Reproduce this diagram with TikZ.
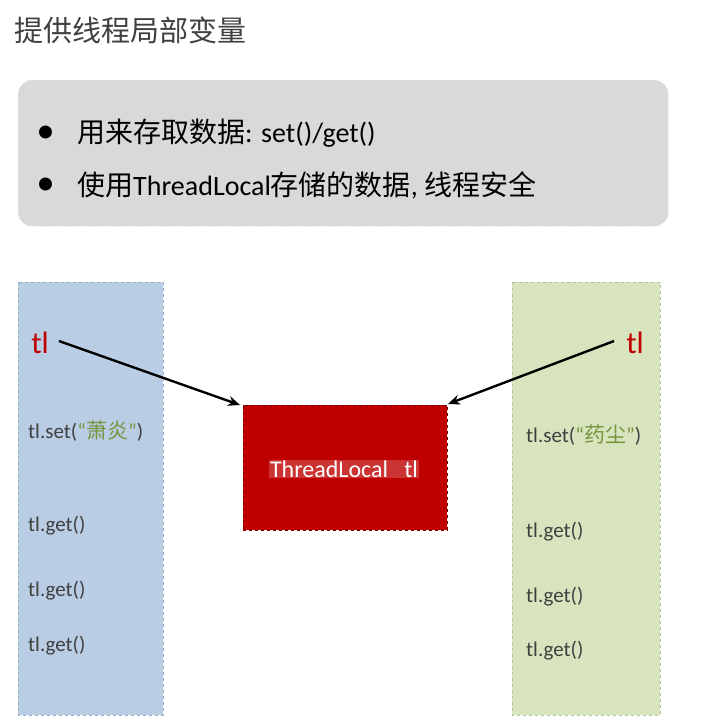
\documentclass[tikz,border=0pt]{standalone}
\usepackage{fontspec}
\setmainfont{Carlito}
\newfontfamily\cjk{Noto Sans CJK SC}
\usetikzlibrary{arrows.meta}
\definecolor{txt}{HTML}{404040}
\definecolor{grn}{HTML}{77933C}
\definecolor{dred}{HTML}{C00000}
\definecolor{bluecol}{HTML}{B9CDE5}
\definecolor{grncol}{HTML}{D7E4BD}
\tikzset{
  col/.style={draw=#1, dashed, line width=0.6pt},
  lbl/.style={anchor=west, text=txt, font=\fontsize{21}{24}\selectfont, inner sep=0},
  bul/.style={anchor=west, text=black, font=\fontsize{28}{32}\selectfont, inner sep=0},
  arr/.style={-{Stealth[length=12pt,width=10pt]}, line width=2.4pt},
  redtl/.style={text=dred, font=\fontsize{31}{36}\selectfont, inner sep=0}
}
\begin{document}
\begin{tikzpicture}[x=1pt,y=-1pt]
\useasboundingbox (0,0) rectangle (705,725);
\node[anchor=west, text=txt, font=\cjk\fontsize{29}{34}\selectfont, inner sep=0] (title) at (14,30) {提供线程局部变量};
\node[draw=gray!25, dashed, fill=gray!30, rounded corners=14pt, minimum width=650, minimum height=146, anchor=north west, inner sep=0] (box) at (18,80) {};
\node[bul] (b1) at (37,133) {●};
\node[bul] (t1) at (77,133) {{\cjk 用来存取数据}: set()/get()};
\node[bul] (b2) at (37,185) {●};
\node[bul] (t2) at (77,185) {{\cjk 使用}ThreadLocal{\cjk 存储的数据}, {\cjk 线程安全}};
\fill[bluecol] (18,282) rectangle (163,715);
\draw[col=bluecol!85!black] (18,282) rectangle (163,715);
\fill[grncol] (512,282) rectangle (660,715);
\draw[col=grncol!85!black] (512,282) rectangle (660,715);
\node[fill=dred, draw=dred!60!black, dashed, minimum width=204, minimum height=125, anchor=north west, inner sep=0] (tlbox) at (243,405) {};
\node[fill=white, fill opacity=0.2, text opacity=1, text=white, font=\fontsize{24}{28}\selectfont, inner sep=1pt] (tltext) at (344,469) {ThreadLocal\ \ \ tl};
\node[redtl] (ltl) at (40,343) {tl};
\node[redtl] (rtl) at (635,343) {tl};
\coordinate (la) at (240,405);
\coordinate (ra) at (448,404);
\draw[arr] (ltl.east)++(10,-2) -- (la);
\draw[arr] (rtl.west)++(-12,-2) -- (ra);
\node[lbl] (ls) at (28,431) {tl.set(\textcolor{grn}{“{\cjk 萧炎}”})};
\node[lbl] (lg1) at (28,526) {tl.get()};
\node[lbl] (lg2) at (28,591) {tl.get()};
\node[lbl] (lg3) at (28,646) {tl.get()};
\node[lbl] (rs) at (526,435) {tl.set(\textcolor{grn}{“{\cjk 药尘}”})};
\node[lbl] (rg1) at (526,532) {tl.get()};
\node[lbl] (rg2) at (526,597) {tl.get()};
\node[lbl] (rg3) at (526,651) {tl.get()};
\end{tikzpicture}
\end{document}
